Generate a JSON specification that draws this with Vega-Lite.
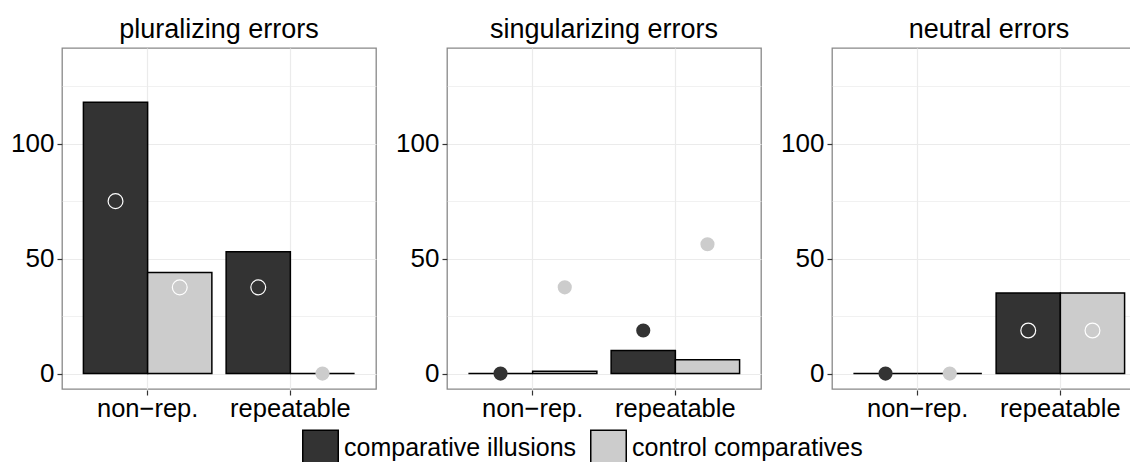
{
  "$schema": "https://vega.github.io/schema/vega-lite/v6.json",
  "background": "white",
  "padding": {"left": 9, "top": 16, "right": 0, "bottom": 0},
  "data": {
    "values": [
      {"panel": "pluralizing errors", "cond": "non−rep.", "group": "comparative illusions", "count": 118, "pct": 75},
      {"panel": "pluralizing errors", "cond": "non−rep.", "group": "control comparatives", "count": 44, "pct": 37.5},
      {"panel": "pluralizing errors", "cond": "repeatable", "group": "comparative illusions", "count": 53, "pct": 37.5},
      {"panel": "pluralizing errors", "cond": "repeatable", "group": "control comparatives", "count": 0, "pct": 0},
      {"panel": "singularizing errors", "cond": "non−rep.", "group": "comparative illusions", "count": 0, "pct": 0},
      {"panel": "singularizing errors", "cond": "non−rep.", "group": "control comparatives", "count": 1, "pct": 37.5},
      {"panel": "singularizing errors", "cond": "repeatable", "group": "comparative illusions", "count": 10, "pct": 18.75},
      {"panel": "singularizing errors", "cond": "repeatable", "group": "control comparatives", "count": 6, "pct": 56.25},
      {"panel": "neutral errors", "cond": "non−rep.", "group": "comparative illusions", "count": 0, "pct": 0},
      {"panel": "neutral errors", "cond": "non−rep.", "group": "control comparatives", "count": 0, "pct": 0},
      {"panel": "neutral errors", "cond": "repeatable", "group": "comparative illusions", "count": 35, "pct": 18.75},
      {"panel": "neutral errors", "cond": "repeatable", "group": "control comparatives", "count": 35, "pct": 18.75}
    ]
  },
  "facet": {
    "column": {
      "field": "panel",
      "type": "nominal",
      "sort": ["pluralizing errors", "singularizing errors", "neutral errors"],
      "header": {
        "title": null,
        "labelFont": "Liberation Sans",
        "labelFontSize": 27,
        "labelColor": "black",
        "labelPadding": 3
      }
    }
  },
  "spacing": 17,
  "resolve": {"axis": {"y": "independent"}},
  "spec": {
    "width": 314,
    "height": 341,
    "encoding": {
      "x": {
        "field": "cond",
        "type": "nominal",
        "sort": ["non−rep.", "repeatable"],
        "scale": {"type": "band", "paddingInner": 0.1, "paddingOuter": 0.15},
        "axis": {
          "title": null,
          "labelAngle": 0,
          "labelFont": "Liberation Sans",
          "labelFontSize": 25.5,
          "labelColor": "black",
          "labelPadding": 1,
          "tickSize": 5,
          "tickColor": "#333333",
          "tickWidth": 1.2,
          "domain": false,
          "grid": true,
          "gridColor": "#ebebeb",
          "gridWidth": 1.2
        }
      },
      "xOffset": {
        "field": "group",
        "type": "nominal",
        "sort": ["comparative illusions", "control comparatives"],
        "scale": {"paddingInner": 0, "paddingOuter": 0}
      }
    },
    "layer": [
      {
        "mark": {"type": "bar", "stroke": "black", "strokeWidth": 1.5},
        "encoding": {
          "y": {
            "field": "count",
            "type": "quantitative",
            "scale": {"domain": [-6.7, 141.6], "nice": false, "zero": false},
            "axis": {
              "title": null,
              "values": [0, 25, 50, 75, 100, 125],
              "labelExpr": "datum.value % 50 == 0 ? datum.label : ''",
              "labelFont": "Liberation Sans",
              "labelFontSize": 26,
              "labelColor": "black",
              "labelPadding": 3,
              "tickSize": 5,
              "tickColor": {"condition": {"test": "datum.value % 50 == 0", "value": "#333333"}, "value": "rgba(0,0,0,0)"},
              "tickWidth": 1.2,
              "domain": false,
              "grid": true,
              "gridColor": "#ebebeb",
              "gridWidth": {"condition": {"test": "datum.value % 50 == 0", "value": 1.2}, "value": 0.7}
            }
          },
          "y2": {"datum": 0},
          "fill": {
            "field": "group",
            "type": "nominal",
            "scale": {"domain": ["comparative illusions", "control comparatives"], "range": ["#333333", "#cccccc"]},
            "legend": {
              "title": null,
              "orient": "none",
              "legendX": 240,
              "legendY": 381,
              "direction": "horizontal",
              "symbolType": "square",
              "symbolSize": 1260,
              "symbolStrokeColor": "black",
              "symbolStrokeWidth": 1.5,
              "labelFont": "Liberation Sans",
              "labelFontSize": 25,
              "labelColor": "black",
              "labelOffset": 5,
              "labelLimit": 400,
              "columnPadding": 10
            }
          }
        }
      },
      {
        "transform": [{"filter": "datum.pct >= datum.count"}],
        "mark": {"type": "point", "filled": true, "size": 200, "opacity": 1, "strokeWidth": 0},
        "encoding": {
          "y": {"field": "pct", "type": "quantitative"},
          "color": {
            "field": "group",
            "type": "nominal",
            "scale": {"domain": ["comparative illusions", "control comparatives"], "range": ["#333333", "#cccccc"]},
            "legend": null
          }
        }
      },
      {
        "transform": [{"filter": "datum.pct < datum.count"}],
        "mark": {"type": "point", "filled": false, "size": 220, "opacity": 1, "strokeWidth": 1.2, "color": "white"},
        "encoding": {
          "y": {"field": "pct", "type": "quantitative"}
        }
      }
    ]
  },
  "config": {
    "view": {"stroke": "#888888", "strokeWidth": 1.3},
    "font": "Liberation Sans"
  }
}
